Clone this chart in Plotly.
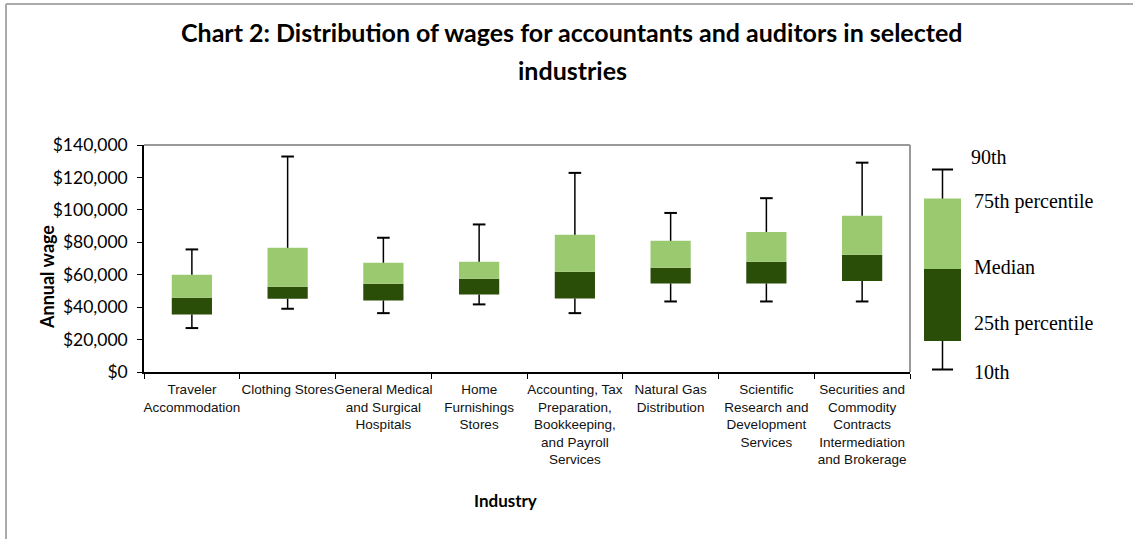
import plotly.graph_objects as go

# ---------------- data ----------------
industries = [
    "Traveler<br>Accommodation",
    "Clothing Stores",
    "General Medical<br>and Surgical<br>Hospitals",
    "Home<br>Furnishings<br>Stores",
    "Accounting, Tax<br>Preparation,<br>Bookkeeping,<br>and Payroll<br>Services",
    "Natural Gas<br>Distribution",
    "Scientific<br>Research and<br>Development<br>Services",
    "Securities and<br>Commodity<br>Contracts<br>Intermediation<br>and Brokerage",
]
p10 = [27100, 39000, 36300, 41700, 36300, 43500, 43500, 43500]
p25 = [35500, 45200, 44100, 47800, 45400, 54600, 54600, 56200]
p50 = [45800, 52600, 54400, 57500, 61800, 64300, 68000, 72300]
p75 = [60000, 76600, 67400, 68000, 84600, 80900, 86400, 96300]
p90 = [75600, 132900, 82800, 91000, 122800, 98100, 107200, 129100]

y_ticks = [0, 20000, 40000, 60000, 80000, 100000, 120000, 140000]
legend_labels = ["90th", "75th percentile", "Median", "25th percentile", "10th"]

# ---------------- style ----------------
LIGHT = "#9BC96F"
DARK = "#2A4D07"
W, H = 1133, 539
ML, MT, PW, PH = 144, 145, 766, 227


def px(x):
    return (x - ML) / PW


def py(y):
    return (MT + PH - y) / PH


fig = go.Figure()

fig.add_trace(go.Bar(
    x=industries, y=[m - a for m, a in zip(p50, p25)], base=p25,
    marker=dict(color=DARK, line=dict(width=0)), width=0.42,
    showlegend=False, hoverinfo="skip"))
fig.add_trace(go.Bar(
    x=industries, y=[a - m for a, m in zip(p75, p50)], base=p50,
    marker=dict(color=LIGHT, line=dict(width=0)), width=0.42,
    showlegend=False, hoverinfo="skip"))

# whiskers
wx, wy = [], []
for c, lo, q1, q3, hi in zip(industries, p10, p25, p75, p90):
    wx += [c, c, None, c, c, None]
    wy += [q3, hi, None, lo, q1, None]
fig.add_trace(go.Scatter(x=wx, y=wy, mode="lines",
                         line=dict(color="black", width=1.5),
                         showlegend=False, hoverinfo="skip"))
fig.add_trace(go.Scatter(x=industries + industries, y=p90 + p10, mode="markers",
                         marker=dict(symbol="line-ew", size=9,
                                     line=dict(color="black", width=2)),
                         showlegend=False, hoverinfo="skip"))

fig.update_layout(
    width=W, height=H, autosize=False,
    margin=dict(l=ML, r=W - ML - PW, t=MT, b=H - MT - PH, pad=0),
    paper_bgcolor="white", plot_bgcolor="white",
    barmode="overlay",
    font=dict(family="Liberation Sans, Arial", color="black"),
    xaxis=dict(
        type="category", tickson="boundaries", ticks="outside", ticklen=5,
        tickcolor="black", showline=True, linecolor="black", linewidth=1.5,
        showgrid=False, zeroline=False, tickangle=0,
        tickfont=dict(family="Liberation Sans, Arial", size=13.5, color="#111"),
        ticklabelstandoff=4, range=[-0.5, 7.5],
    ),
    yaxis=dict(
        range=[0, 140000], tickvals=y_ticks, tickformat="$,.0f",
        ticks="outside", ticklen=5, tickcolor="black",
        showline=True, linecolor="black", linewidth=1.5,
        showgrid=False, zeroline=False,
        tickfont=dict(family="Lato, Liberation Sans", size=17.5, color="black"),
        ticklabelstandoff=6,
    ),
)

shapes = []
# plot-area border top/right (gray)
shapes.append(dict(type="line", xref="paper", yref="paper", x0=0, x1=1, y0=1, y1=1,
                   line=dict(color="#999999", width=2)))
shapes.append(dict(type="line", xref="paper", yref="paper", x0=1, x1=1, y0=0, y1=1,
                   line=dict(color="#999999", width=2)))
# outer chart frame (left & top visible)
shapes.append(dict(type="line", xref="paper", yref="paper", x0=px(6), x1=px(6),
                   y0=py(4), y1=py(H + 5), line=dict(color="#AAAAAA", width=2)))
shapes.append(dict(type="line", xref="paper", yref="paper", x0=px(6), x1=px(W + 5),
                   y0=py(4), y1=py(4), line=dict(color="#AAAAAA", width=2)))
# legend graphic
lx = 942.5
shapes.append(dict(type="line", xref="paper", yref="paper", x0=px(lx), x1=px(lx),
                   y0=py(169.5), y1=py(369.5), line=dict(color="black", width=1.5)))
for yy in (169.5, 369.5):
    shapes.append(dict(type="line", xref="paper", yref="paper", x0=px(932), x1=px(953),
                       y0=py(yy), y1=py(yy), line=dict(color="black", width=2)))
shapes.append(dict(type="rect", xref="paper", yref="paper", x0=px(924), x1=px(961),
                   y0=py(198.5), y1=py(269), fillcolor=LIGHT, line=dict(width=0)))
shapes.append(dict(type="rect", xref="paper", yref="paper", x0=px(924), x1=px(961),
                   y0=py(269), y1=py(341), fillcolor=DARK, line=dict(width=0)))
fig.update_layout(shapes=shapes)

ann = []
title_font = dict(family="Lato, Liberation Sans", size=25, color="black")
ann.append(dict(text="<b>Chart 2: Distribution of wages for accountants and auditors in selected</b>",
                x=px(572), y=py(32), xref="paper", yref="paper", showarrow=False,
                xanchor="center", yanchor="middle", font=title_font))
ann.append(dict(text="<b>industries</b>", x=px(572), y=py(70), xref="paper", yref="paper",
                showarrow=False, xanchor="center", yanchor="middle", font=title_font))
ann.append(dict(text="<b>Annual wage</b>", x=px(47), y=py(277), xref="paper", yref="paper",
                showarrow=False, textangle=-90, xanchor="center", yanchor="middle",
                font=dict(family="Lato, Liberation Sans", size=18, color="black")))
ann.append(dict(text="<b>Industry</b>", x=px(505), y=py(500), xref="paper", yref="paper",
                showarrow=False, xanchor="center", yanchor="middle",
                font=dict(family="Lato, Liberation Sans", size=17, color="black")))
leg_pos = [(969, 157), (972, 201), (972, 267), (972, 323), (972, 372)]
for lab, (x, y) in zip(legend_labels, leg_pos):
    ann.append(dict(text=lab, x=px(x), y=py(y), xref="paper", yref="paper",
                    showarrow=False, xanchor="left", yanchor="middle",
                    font=dict(family="Liberation Serif, Times New Roman", size=20,
                              color="black")))
fig.update_layout(annotations=ann)

fig.write_html("out.html")
